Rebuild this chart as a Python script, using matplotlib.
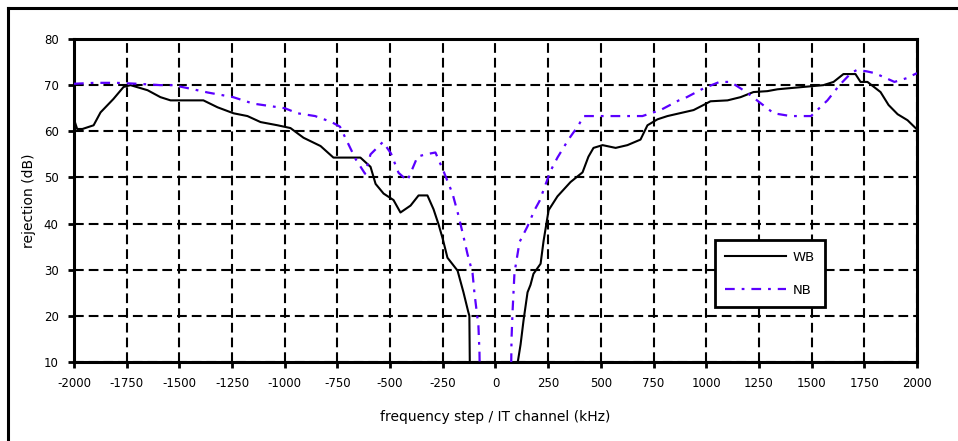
import matplotlib.pyplot as plt
import matplotlib.lines as mlines
import numpy as np

plt.rcParams['font.family'] = ['DejaVu Sans']
plt.rcParams['lines.scale_dashes'] = False

# WB curve (kHz, dB)
wb_f = [-2000, -1985, -1960, -1907, -1874, -1813, -1765, -1732, -1651, -1590,
        -1542, -1386, -1319, -1243, -1177, -1115, -1034, -973, -911, -830,
        -769, -641, -593, -569, -531, -484, -451, -403, -365, -323,
        -294, -270, -251, -228, -180, -152, -130, -124, -120,
        100, 104, 119, 133, 152, 166, 180, 214, 228, 252, 294,
        356, 413, 441, 465, 508, 570, 626, 688, 721, 769,
        816, 940, 987, 1020, 1101, 1163, 1224, 1290, 1338, 1385,
        1556, 1604, 1651, 1708, 1732, 1765, 1827, 1865, 1908, 1955, 2000]
wb_db = [62.6, 60.5, 60.5, 61.3, 64.1, 67.0, 69.6, 70.0, 68.9, 67.4,
         66.7, 66.7, 65.2, 63.9, 63.3, 62.0, 61.3, 60.7, 58.6, 56.8,
         54.3, 54.3, 52.3, 48.6, 46.5, 45.1, 42.4, 43.9, 46.1, 46.1,
         43.1, 39.8, 36.8, 32.6, 29.8, 25.1, 21.0, 20.0, 0.0,
         0.0, 9.5, 13.8, 19.0, 25.1, 26.7, 29.1, 31.3, 36.2, 42.9, 45.9,
         49.0, 51.1, 54.5, 56.4, 57.0, 56.4, 57.0, 58.2, 61.3, 62.6,
         63.3, 64.6, 65.7, 66.5, 66.7, 67.4, 68.5, 68.7, 69.1, 69.3,
         70.0, 70.7, 72.4, 72.4, 70.7, 70.7, 68.5, 65.7, 63.7, 62.4, 60.4]

# NB curve (kHz, dB)
nb_f = [-2000, -1900, -1800, -1700, -1590, -1530, -1455, -1365, -1245, -1150,
        -1000, -939, -856, -778, -738, -664, -619, -593, -534, -496,
        -460, -418, -370, -332, -285, -247, -204, -176, -152, -133,
        -109, -100, -81, -76, -72,
        72, 76, 81, 90, 114, 152, 185, 209, 261, 294,
        346, 394, 418, 508, 593, 697, 783, 870, 908, 987,
        1063, 1115, 1190, 1320, 1400, 1497, 1575, 1632, 1687, 1715,
        1760, 1800, 1893, 1950, 2000]
nb_db = [70.3, 70.5, 70.5, 70.3, 70.0, 70.0, 69.3, 68.4, 67.4, 66.0,
         65.0, 63.9, 63.3, 62.0, 61.0, 54.0, 50.8, 55.0, 57.7, 55.2,
         51.0, 49.3, 54.5, 55.0, 55.4, 51.4, 46.5, 41.8, 37.2, 33.4,
         29.3, 25.0, 17.8, 12.0, 0.0,
         0.0, 15.0, 21.0, 29.3, 36.0, 39.4, 42.9, 44.9, 51.4, 54.3,
         58.2, 61.3, 63.3, 63.3, 63.3, 63.3, 64.6, 66.7, 67.4, 69.3,
         70.7, 70.7, 68.5, 63.9, 63.3, 63.3, 66.7, 70.0, 72.6, 73.3,
         73.0, 72.6, 70.7, 71.5, 72.6]

x_ticks = list(range(-2000, 2001, 250))
x_labels = [str(v) for v in x_ticks]
y_ticks = list(range(10, 81, 10))

fig = plt.figure(figsize=(9.58, 4.41), dpi=100)
ax = fig.add_axes([74/958, 1 - 362/441, (917-74)/958, (362-39)/441])

ax.plot(wb_f, wb_db, color='black', lw=1.5, label='WB', zorder=3)
ax.plot(nb_f, nb_db, color='#5b00ff', lw=1.6, dashes=(7, 5, 2, 5), label='NB', zorder=3)

ax.set_xlim(-2000, 2000)
ax.set_ylim(10, 80)
ax.set_xticks(x_ticks)
ax.set_xticklabels(x_labels)
ax.set_yticks(y_ticks)
ax.grid(True, color='black', lw=1.5, dashes=(7, 3.6))
ax.tick_params(direction='out', length=4, width=2, labelsize=8.5, pad=7)
for s in ax.spines.values():
    s.set_linewidth(2.2)

ax.set_xlabel('frequency step / IT channel (kHz)', fontsize=10, labelpad=14)
ax.set_ylabel('rejection (dB)', fontsize=10, labelpad=6)

leg = ax.legend(loc='lower left', bbox_to_anchor=(0.760, 0.170), frameon=True,
                fancybox=False, edgecolor='black', framealpha=1, fontsize=9.5,
                handlelength=4.6, labelspacing=1.5, borderpad=0.8,
                handletextpad=0.5, borderaxespad=0)
leg.get_frame().set_linewidth(2.0)

# outer frame (left and top edges)
fig.add_artist(mlines.Line2D([8/958, 8/958], [0, 1 - 8/441], color='black', lw=2.2))
fig.add_artist(mlines.Line2D([8/958, 1], [1 - 8/441, 1 - 8/441], color='black', lw=2.2))

fig.savefig('out.png', dpi=100)
